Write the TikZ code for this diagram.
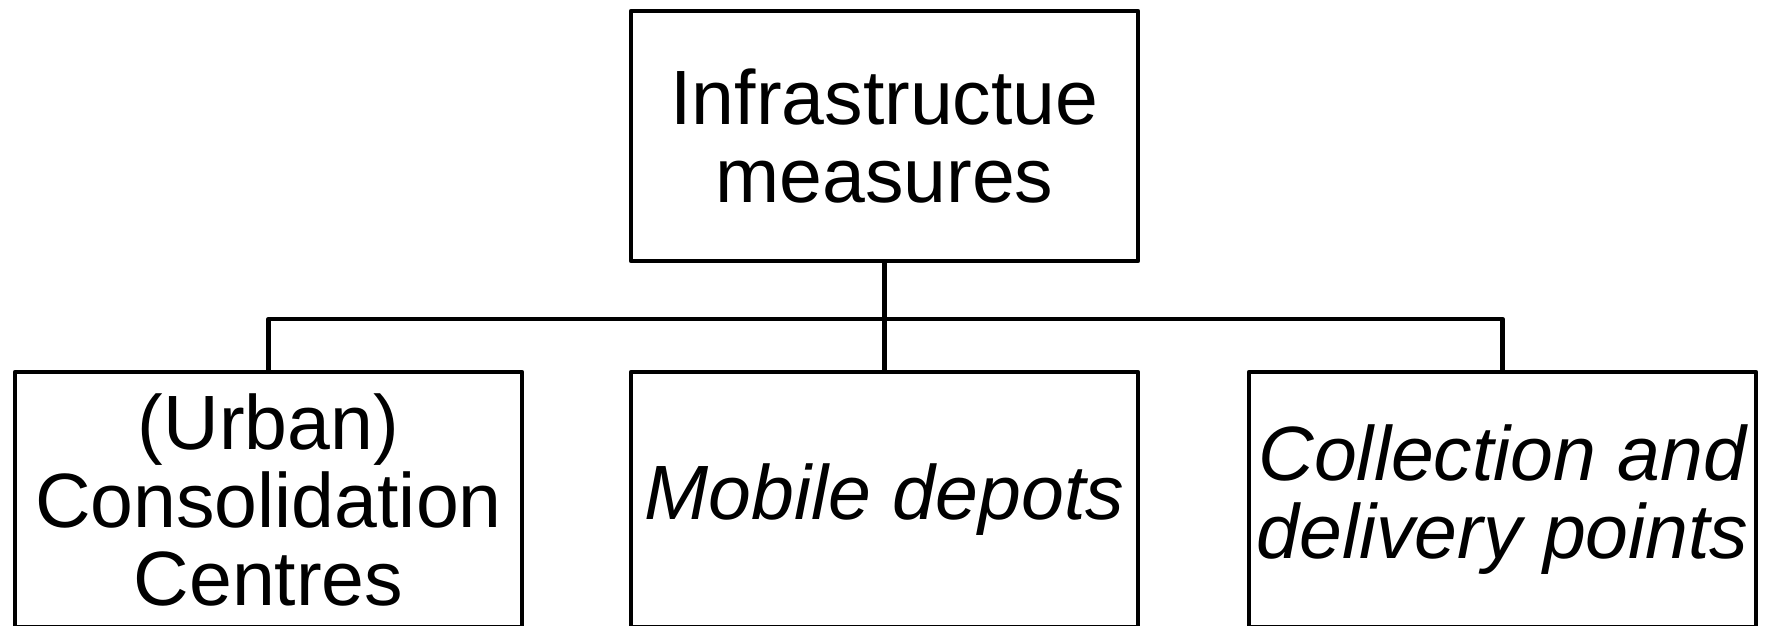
\documentclass[tikz,border=0pt]{standalone}
\usepackage{fontspec}
\setmainfont{Liberation Sans}
\begin{document}
\begin{tikzpicture}[x=1pt,y=-1pt,
  box/.style={draw=black, line width=4.6pt, line join=round, fill=white, inner sep=0pt,
    minimum width=507pt, align=center, font=\fontsize{77}{78}\selectfont},
  topbox/.style={box, minimum height=250pt},
  subbox/.style={box, minimum height=255pt},
  link/.style={draw=black, line width=4.6pt, line join=round}]
\useasboundingbox (0,0) rectangle (1772,625);
\fill[white] (0,0) rectangle (1772,625);
\node[topbox] (top) at (884.5,136) {Infrastructue\\measures};
\node[subbox] (ucc) at (268.5,499.5) {(Urban)\\Consolidation\\Centres};
\node[subbox] (mob) at (884.5,499.5) {\itshape Mobile depots};
\node[subbox] (cdp) at (1502.5,499.5) {\itshape Collection and\\\itshape delivery points};
\coordinate (bar) at (884.5,319);
\draw[link] (top.south) -- (mob.north);
\draw[link] (ucc.north) -- (ucc.north |- bar) -- (cdp.north |- bar) -- (cdp.north);
\end{tikzpicture}
\end{document}
